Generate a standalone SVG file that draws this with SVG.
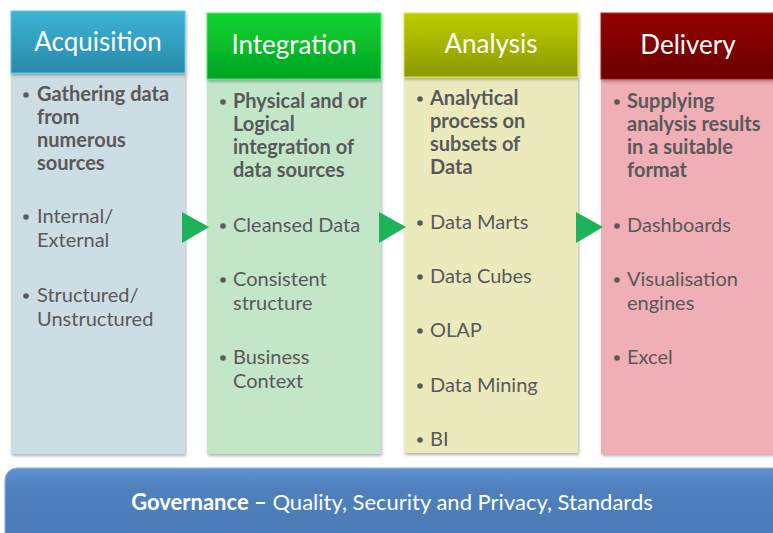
<svg xmlns="http://www.w3.org/2000/svg" width="773" height="533" viewBox="0 0 773 533">
<defs>
<linearGradient id="gA" x1="0" y1="0" x2="0" y2="1"><stop offset="0" stop-color="#3cb4d6"/><stop offset="1" stop-color="#2889a8"/></linearGradient>
<linearGradient id="gI" x1="0" y1="0" x2="0" y2="1"><stop offset="0" stop-color="#10d530"/><stop offset="1" stop-color="#00a423"/></linearGradient>
<linearGradient id="gN" x1="0" y1="0" x2="0" y2="1"><stop offset="0" stop-color="#bccd00"/><stop offset="1" stop-color="#8b9a00"/></linearGradient>
<linearGradient id="gD" x1="0" y1="0" x2="0" y2="1"><stop offset="0" stop-color="#950404"/><stop offset="1" stop-color="#6a0000"/></linearGradient>
<linearGradient id="gG" x1="0" y1="0" x2="0" y2="1"><stop offset="0" stop-color="#5f93d3"/><stop offset="0.25" stop-color="#4f80bc"/><stop offset="1" stop-color="#4a7ab5"/></linearGradient>
<filter id="sh" x="-5%" y="-5%" width="115%" height="115%"><feDropShadow dx="1" dy="2" stdDeviation="1.5" flood-color="#000" flood-opacity="0.3"/></filter>
</defs>
<style>
.hd{font-family:Lato,"Open Sans",sans-serif;font-size:26px;fill:#fff;text-anchor:middle}
.t{font-family:Lato,"Open Sans",sans-serif;font-size:20px;fill:#595959}
.b{font-weight:bold}
.dot{fill:#595959}
.arr{fill:#1db35a}
.gv{font-family:Lato,"Open Sans",sans-serif;font-size:22px;fill:#fff;text-anchor:middle}
</style>
<g id="acquisition">
<rect x="11" y="73" width="174" height="381" fill="#cddde4" filter="url(#sh)"/>
<rect x="11" y="11" width="174" height="62" fill="url(#gA)" stroke="#5cc8e6" stroke-width="1" filter="url(#sh)"/>
<text class="hd" x="98" y="51">Acquisition</text>
<circle class="dot" cx="26" cy="95" r="2.8"/>
<text class="t b" x="37" y="101">Gathering data</text>
<text class="t b" x="37" y="124">from</text>
<text class="t b" x="37" y="147">numerous</text>
<text class="t b" x="37" y="170">sources</text>
<circle class="dot" cx="26" cy="217" r="2.8"/>
<text class="t" x="37" y="223">Internal/</text>
<text class="t" x="37" y="247">External</text>
<circle class="dot" cx="26" cy="296" r="2.8"/>
<text class="t" x="37" y="302">Structured/</text>
<text class="t" x="37" y="326">Unstructured</text>
</g>
<g id="integration">
<rect x="207" y="79" width="174" height="375" fill="#c3e6c9" filter="url(#sh)"/>
<rect x="207" y="13" width="174" height="66" fill="url(#gI)" stroke="#50e870" stroke-width="1" filter="url(#sh)"/>
<text class="hd" x="294" y="54">Integration</text>
<circle class="dot" cx="223" cy="102" r="2.8"/>
<text class="t b" x="233" y="108">Physical and or</text>
<text class="t b" x="233" y="131">Logical</text>
<text class="t b" x="233" y="154">integration of</text>
<text class="t b" x="233" y="177">data sources</text>
<circle class="dot" cx="223" cy="226" r="2.8"/>
<text class="t" x="233" y="232">Cleansed Data</text>
<circle class="dot" cx="223" cy="280" r="2.8"/>
<text class="t" x="233" y="286">Consistent</text>
<text class="t" x="233" y="310">structure</text>
<circle class="dot" cx="223" cy="358" r="2.8"/>
<text class="t" x="233" y="364">Business</text>
<text class="t" x="233" y="388">Context</text>
</g>
<g id="analysis">
<rect x="404" y="77" width="174" height="376" fill="#ebeabd" filter="url(#sh)"/>
<rect x="404" y="13" width="174" height="64" fill="url(#gN)" stroke="#e0ea40" stroke-width="1" filter="url(#sh)"/>
<text class="hd" x="491" y="53">Analysis</text>
<circle class="dot" cx="420" cy="99" r="2.8"/>
<text class="t b" x="430" y="105">Analytical</text>
<text class="t b" x="430" y="128">process on</text>
<text class="t b" x="430" y="151">subsets of</text>
<text class="t b" x="430" y="174">Data</text>
<circle class="dot" cx="420" cy="223" r="2.8"/>
<text class="t" x="430" y="229">Data Marts</text>
<circle class="dot" cx="420" cy="277" r="2.8"/>
<text class="t" x="430" y="283">Data Cubes</text>
<circle class="dot" cx="420" cy="331" r="2.8"/>
<text class="t" x="430" y="337">OLAP</text>
<circle class="dot" cx="420" cy="386" r="2.8"/>
<text class="t" x="430" y="392">Data Mining</text>
<circle class="dot" cx="420" cy="440" r="2.8"/>
<text class="t" x="430" y="446">BI</text>
</g>
<g id="delivery">
<rect x="601" y="79" width="176" height="375" fill="#f0aeb6" filter="url(#sh)"/>
<rect x="601" y="13" width="176" height="66" fill="url(#gD)" stroke="#b02020" stroke-width="1" filter="url(#sh)"/>
<text class="hd" x="688" y="54">Delivery</text>
<circle class="dot" cx="617" cy="102" r="2.8"/>
<text class="t b" x="627" y="108">Supplying</text>
<text class="t b" x="627" y="131">analysis results</text>
<text class="t b" x="627" y="154">in a suitable</text>
<text class="t b" x="627" y="177">format</text>
<circle class="dot" cx="617" cy="226" r="2.8"/>
<text class="t" x="627" y="232">Dashboards</text>
<circle class="dot" cx="617" cy="280" r="2.8"/>
<text class="t" x="627" y="286">Visualisation</text>
<text class="t" x="627" y="310">engines</text>
<circle class="dot" cx="617" cy="358" r="2.8"/>
<text class="t" x="627" y="364">Excel</text>
</g>
<g id="connectors">
<polygon class="arr" points="182,212 182,243 209,227"/>
<polygon class="arr" points="379,212 379,243 406,227"/>
<polygon class="arr" points="576,212 576,243 603,227"/>
</g>
<g id="governance">
<rect x="5" y="468" width="790" height="80" rx="12" ry="12" fill="url(#gG)" stroke="#8fb4e3" stroke-width="1" filter="url(#sh)"/>
<text class="gv" x="392" y="510"><tspan font-weight="bold">Governance –</tspan> Quality, Security and Privacy, Standards</text>
</g>
</svg>
